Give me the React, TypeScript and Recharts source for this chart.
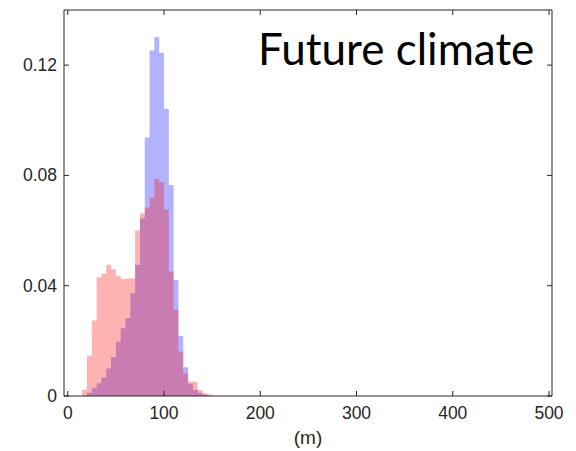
import React from 'react';
import { ComposedChart, Area, XAxis, YAxis, Label } from 'recharts';

// Histogram bin edges (m); each value belongs to [edge, edge + 5)
const binEdges = [15, 20, 25, 30, 35, 40, 45, 50, 55, 60, 65, 70, 75, 80, 85, 90, 95, 100, 105, 110, 115, 120, 125, 130, 135, 140, 145, 150];

// Blue histogram (probability per bin)
const blueValues = [0, 0.0012, 0.0028, 0.0046, 0.0067, 0.0100, 0.0141, 0.0197, 0.0246, 0.0282, 0.0373, 0.0476, 0.0644, 0.0938, 0.1253, 0.1302, 0.1245, 0.1041, 0.0765, 0.0421, 0.0218, 0.0104, 0.0044, 0.0022, 0.0012, 0.0005, 0];

// Red histogram (probability per bin)
const redValues = [0.0022, 0.0145, 0.0274, 0.0431, 0.0443, 0.0476, 0.0460, 0.0436, 0.0424, 0.0426, 0.0427, 0.0600, 0.0662, 0.0684, 0.0719, 0.0788, 0.0775, 0.0676, 0.0452, 0.0312, 0.0161, 0.0082, 0.0052, 0.0052, 0.0022, 0.0010, 0.0005];

const xTicks = [0, 100, 200, 300, 400, 500];
const yTicks = [0, 0.04, 0.08, 0.12];
const yTickLabels = ['0', '0.04', '0.08', '0.12'];
const xLabel = '(m)';
const title = 'Future climate';

const data = binEdges.map((edge, i) => ({
  x: edge,
  blue: blueValues[i] ?? 0,
  red: redValues[i] ?? 0,
}));

const AXIS_COLOR = '#262626';
const TICK_FONT = '"Liberation Sans", Arial, Helvetica, sans-serif';
const TICK_FONT_SIZE = 17.5;
const TICK_LEN = 5;

const BottomTick = (props: any) => {
  const { x, y, payload } = props;
  return (
    <g>
      <line x1={x} y1={y} x2={x} y2={y - TICK_LEN} stroke={AXIS_COLOR} strokeWidth={1} />
      <text x={x} y={y + 23} textAnchor="middle" fontFamily={TICK_FONT} fontSize={TICK_FONT_SIZE} fill={AXIS_COLOR}>
        {payload.value}
      </text>
    </g>
  );
};

const LeftTick = (props: any) => {
  const { x, y, payload } = props;
  const idx = yTicks.indexOf(payload.value);
  const label = idx >= 0 ? yTickLabels[idx] : String(payload.value);
  return (
    <g>
      <line x1={x} y1={y} x2={x + TICK_LEN} y2={y} stroke={AXIS_COLOR} strokeWidth={1} />
      <text x={x - 7} y={y + 6} textAnchor="end" fontFamily={TICK_FONT} fontSize={TICK_FONT_SIZE} fill={AXIS_COLOR}>
        {label}
      </text>
    </g>
  );
};

const TopTick = (props: any) => {
  const { x, y } = props;
  return <line x1={x} y1={y} x2={x} y2={y + TICK_LEN} stroke={AXIS_COLOR} strokeWidth={1} />;
};

const RightTick = (props: any) => {
  const { x, y } = props;
  return <line x1={x} y1={y} x2={x - TICK_LEN} y2={y} stroke={AXIS_COLOR} strokeWidth={1} />;
};

const X_DOMAIN: [number, number] = [-3.9, 503.1];
const Y_DOMAIN: [number, number] = [0, 0.14];

export default function App() {
  return (
    <div style={{ position: 'absolute', left: 0, top: 0, width: 576, height: 451, background: '#fff' }}>
      <ComposedChart
        width={576}
        height={451}
        data={data}
        margin={{ top: 9, right: 23, bottom: 0, left: 0 }}
      >
        <XAxis
          xAxisId="bottom"
          dataKey="x"
          type="number"
          orientation="bottom"
          domain={X_DOMAIN}
          allowDataOverflow
          ticks={xTicks}
          interval={0}
          height={55}
          tickSize={0}
          tickMargin={0}
          tickLine={false}
          axisLine={{ stroke: AXIS_COLOR, strokeWidth: 1 }}
          tick={<BottomTick />}
        >
          <Label
            value={xLabel}
            position="insideBottom"
            offset={7}
            style={{ fontFamily: TICK_FONT, fontSize: 19, fill: AXIS_COLOR }}
          />
        </XAxis>
        <XAxis
          xAxisId="top"
          dataKey="x"
          type="number"
          orientation="top"
          domain={X_DOMAIN}
          allowDataOverflow
          ticks={xTicks}
          interval={0}
          height={1}
          tickSize={0}
          tickMargin={0}
          tickLine={false}
          axisLine={{ stroke: AXIS_COLOR, strokeWidth: 1 }}
          tick={<TopTick />}
        />
        <YAxis
          yAxisId="left"
          type="number"
          orientation="left"
          domain={Y_DOMAIN}
          allowDataOverflow
          ticks={yTicks}
          interval={0}
          width={64}
          tickSize={0}
          tickMargin={0}
          tickLine={false}
          axisLine={{ stroke: AXIS_COLOR, strokeWidth: 1 }}
          tick={<LeftTick />}
        />
        <YAxis
          yAxisId="right"
          type="number"
          orientation="right"
          domain={Y_DOMAIN}
          allowDataOverflow
          ticks={yTicks}
          interval={0}
          width={1}
          tickSize={0}
          tickMargin={0}
          tickLine={false}
          axisLine={{ stroke: AXIS_COLOR, strokeWidth: 1 }}
          tick={<RightTick />}
        />
        <Area
          xAxisId="bottom"
          yAxisId="left"
          dataKey="blue"
          type="stepAfter"
          stroke="none"
          fill="#0000ff"
          fillOpacity={0.3}
          dot={false}
          activeDot={false}
          isAnimationActive={false}
        />
        <Area
          xAxisId="bottom"
          yAxisId="left"
          dataKey="red"
          type="stepAfter"
          stroke="none"
          fill="#ff0000"
          fillOpacity={0.3}
          dot={false}
          activeDot={false}
          isAnimationActive={false}
        />
      </ComposedChart>
      <svg
        width={576}
        height={451}
        style={{ position: 'absolute', left: 0, top: 0, pointerEvents: 'none' }}
      >
        <text x={258} y={65} fontFamily="Lato, 'Open Sans', sans-serif" fontSize={44} fill="#000">
          {title}
        </text>
      </svg>
    </div>
  );
}
